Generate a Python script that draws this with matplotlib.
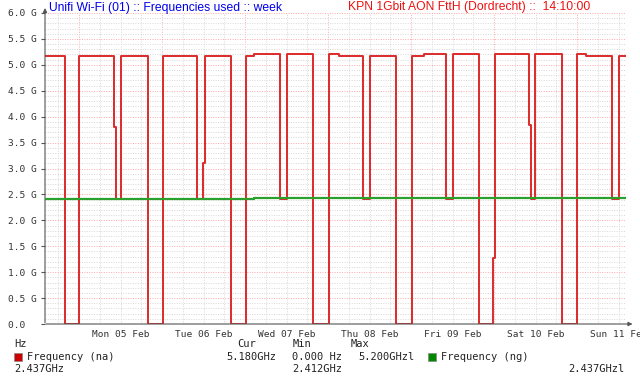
import numpy as np
import pandas as pd
import matplotlib
matplotlib.use("Agg")
import matplotlib.pyplot as plt
import matplotlib.dates as mdates

# window of the graph (one week ending 14:10)
t_start = pd.Timestamp("2024-02-04 14:10")
t_end = pd.Timestamp("2024-02-11 14:10")

# Frequency (na), Hz - change points (step graph)
na_times = ["2024-02-04 14:10", "2024-02-04 19:50", "2024-02-05 00:00", "2024-02-05 10:00",
            "2024-02-05 10:40", "2024-02-05 12:00", "2024-02-05 19:50", "2024-02-06 00:20",
            "2024-02-06 10:15", "2024-02-06 11:50", "2024-02-06 12:20", "2024-02-06 19:50",
            "2024-02-07 00:20", "2024-02-07 02:35", "2024-02-07 10:00", "2024-02-07 12:00",
            "2024-02-07 19:40", "2024-02-08 00:25", "2024-02-08 03:10", "2024-02-08 10:15",
            "2024-02-08 12:05", "2024-02-08 19:40", "2024-02-09 00:17", "2024-02-09 03:45",
            "2024-02-09 10:10", "2024-02-09 12:10", "2024-02-09 19:40", "2024-02-09 23:45",
            "2024-02-10 00:20", "2024-02-10 10:10", "2024-02-10 10:40", "2024-02-10 11:50",
            "2024-02-10 19:40", "2024-02-11 00:00", "2024-02-11 02:40", "2024-02-11 10:10",
            "2024-02-11 12:00", "2024-02-11 14:10"]
na_ghz = [5.18, 0.0, 5.18, 3.80,
          2.42, 5.18, 0.0, 5.18,
          2.42, 3.10, 5.18, 0.0,
          5.18, 5.20, 2.42, 5.20,
          0.0, 5.20, 5.18, 2.42,
          5.18, 0.0, 5.18, 5.20,
          2.42, 5.20, 0.0, 1.27,
          5.20, 3.84, 2.42, 5.20,
          0.0, 5.20, 5.18, 2.42,
          5.18, 5.18]

# Frequency (ng), Hz
ng_times = ["2024-02-04 14:10", "2024-02-07 02:35", "2024-02-11 14:10"]
ng_ghz = [2.412, 2.437, 2.437]

day_labels = ["Mon 05 Feb", "Tue 06 Feb", "Wed 07 Feb", "Thu 08 Feb",
              "Fri 09 Feb", "Sat 10 Feb", "Sun 11 Feb"]
y_labels = ["0.0  ", "0.5 G", "1.0 G", "1.5 G", "2.0 G", "2.5 G", "3.0 G",
            "3.5 G", "4.0 G", "4.5 G", "5.0 G", "5.5 G", "6.0 G"]

na_t = pd.to_datetime(na_times)
ng_t = pd.to_datetime(ng_times)
na_hz = np.array(na_ghz) * 1e9
ng_hz = np.array(ng_ghz) * 1e9

mono = "DejaVu Sans Mono"
fig = plt.figure(figsize=(6.4, 3.8), dpi=100)
fig.patch.set_facecolor("white")
ax = fig.add_axes([45 / 640, 56 / 380, 581 / 640, 311 / 380])

ax.set_xlim(t_start, t_end)
ax.set_ylim(0, 6e9)

# grid: minor grey, major red-ish
ax.xaxis.set_major_locator(mdates.HourLocator(byhour=[0]))
ax.xaxis.set_minor_locator(mdates.HourLocator(byhour=[0, 6, 12, 18]))
ax.set_yticks(np.arange(0, 6.01e9, 0.5e9))
ax.set_yticks(np.arange(0, 6.01e9, 0.1e9), minor=True)
ax.grid(which="minor", color="#d8d8d8", linestyle=(0, (1, 1.5)), linewidth=0.7)
ax.grid(which="major", color="#ffa8a8", linestyle=(0, (1, 1.5)), linewidth=0.7)
ax.set_axisbelow(True)

ax.set_xticklabels([])
ax.tick_params(axis="x", which="both", length=0)
ax.tick_params(axis="y", which="minor", length=0)
ax.tick_params(axis="y", which="major", length=3, width=0.8, color="#555555", pad=3)
ax.set_yticklabels(y_labels, fontfamily=mono, fontsize=6.8, color="#333333")

for s in ["top", "right", "left", "bottom"]:
    ax.spines[s].set_visible(False)

# day labels centred at noon (last one runs off the edge like the original)
for i, lab in enumerate(day_labels):
    noon = pd.Timestamp("2024-02-05 12:00") + pd.Timedelta(days=i)
    ax.text(noon, -0.035, lab, transform=ax.get_xaxis_transform(), ha="center", va="center",
            fontfamily=mono, fontsize=6.8, color="#333333", clip_on=False)

ax.step(na_t, na_hz, where="post", color="#dd2a2a", linewidth=1.4, zorder=3)
ax.step(ng_t, ng_hz, where="post", color="#2ca02c", linewidth=1.6, zorder=4)

# axes with arrows (rrdtool style)
ax.annotate("", xy=(1.016, 0), xytext=(-0.003, 0), xycoords="axes fraction",
            arrowprops=dict(arrowstyle="-|>", color="#555555", lw=0.8, mutation_scale=6),
            annotation_clip=False)
ax.annotate("", xy=(0, 1.025), xytext=(0, -0.005), xycoords="axes fraction",
            arrowprops=dict(arrowstyle="-|>", color="#555555", lw=0.8, mutation_scale=6),
            annotation_clip=False)

# titles
fig.text(49 / 640, 1 - 8 / 380, "Unifi Wi-Fi (01) :: Frequencies used :: week",
         fontfamily="Liberation Sans", fontsize=8.7, color="#0000ee", va="center", ha="left")
fig.text(348 / 640, 1 - 7 / 380, "KPN 1Gbit AON FttH (Dordrecht) ::  14:10:00",
         fontfamily="Liberation Sans", fontsize=8.7, color="#ee1111", va="center", ha="left")

# legend
lf = dict(fontfamily=mono, fontsize=7.5, color="#222222", va="center", ha="left")
def row(y):
    return 1 - y / 380
fig.text(14 / 640, row(344), "Hz", **lf)
fig.text(237 / 640, row(344), "Cur", **lf)
fig.text(293 / 640, row(344), "Min", **lf)
fig.text(351 / 640, row(344), "Max", **lf)
fig.patches.append(plt.Rectangle((14 / 640, row(361)), 8 / 640, 8 / 380, transform=fig.transFigure,
                                 facecolor="#cc0000", edgecolor="#888888", linewidth=0.5))
fig.text(27 / 640, row(357), "Frequency (na)", **lf)
fig.text(226 / 640, row(357), "5.180GHz", **lf)
fig.text(292 / 640, row(357), "0.000 Hz", **lf)
fig.text(358 / 640, row(357), "5.200GHzl", **lf)
fig.patches.append(plt.Rectangle((428 / 640, row(361)), 8 / 640, 8 / 380, transform=fig.transFigure,
                                 facecolor="#008800", edgecolor="#888888", linewidth=0.5))
fig.text(441 / 640, row(357), "Frequency (ng)", **lf)
fig.text(14 / 640, row(369), "2.437GHz", **lf)
fig.text(292 / 640, row(369), "2.412GHz", **lf)
fig.text(568 / 640, row(369), "2.437GHzl", **lf)

fig.savefig("out.png", dpi=100)
